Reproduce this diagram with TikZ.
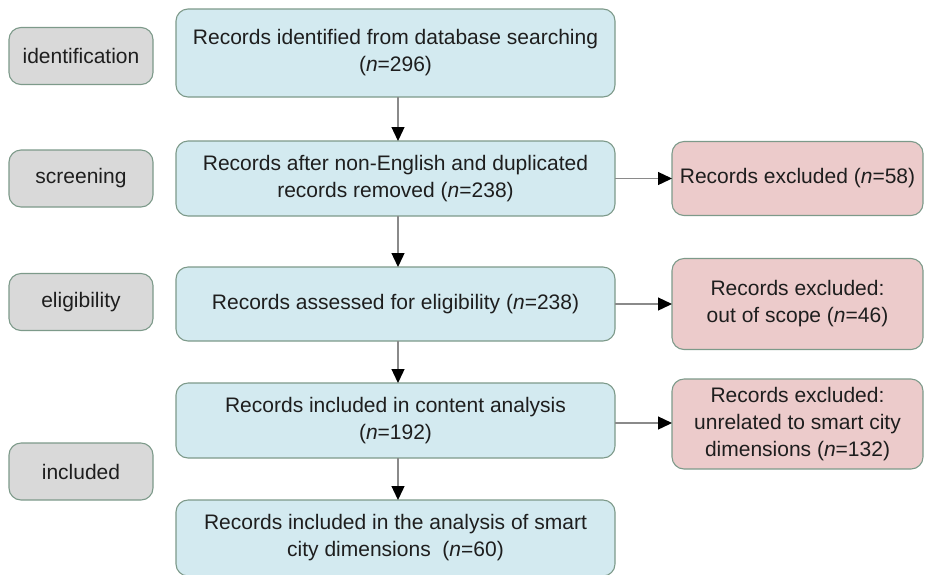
\documentclass[tikz,border=0pt]{standalone}
\usepackage{fontspec}
\setmainfont{Liberation Sans}
\usepackage{tikz}
\usetikzlibrary{positioning,arrows.meta}
\definecolor{pblue}{HTML}{D3EAF0}
\definecolor{pred}{HTML}{ECCBCB}
\definecolor{pgry}{HTML}{D9D9D9}
\definecolor{pedge}{HTML}{7D9A8A}
\definecolor{pline}{HTML}{8A8A8A}
\definecolor{ptext}{HTML}{1E1E1E}
\newcommand{\nn}[1]{(\textit{n}=#1)}
\tikzset{
  box/.style   ={rounded corners=12pt, draw=pedge, line width=1.1pt, outer sep=0pt,
                 inner sep=4pt, align=center, text=ptext, font=\fontsize{21}{27}\selectfont},
  recbox/.style={box, fill=pblue, minimum width=439pt},
  exbox/.style ={box, fill=pred, minimum width=251pt},
  stagebox/.style={box, fill=pgry, minimum width=144pt, minimum height=57pt},
  flow/.style  ={-{Triangle[length=14pt, width=13pt, color=black]}, line width=1.3pt, draw=pline},
}
\begin{document}
\begin{tikzpicture}[x=1pt, y=-1pt]
  \useasboundingbox (0,0) rectangle (925,574);
  % main chain of records
  \node[recbox, minimum height=88pt] (ident) at (395.5,53)
     {Records identified from database searching\\\nn{296}};
  \node[recbox, minimum height=75pt, below=44pt of ident] (dedup)
     {Records after non-English and duplicated\\records removed \nn{238}};
  \node[recbox, minimum height=74pt, below=51pt of dedup] (elig)
     {Records assessed for eligibility \nn{238}};
  \node[recbox, minimum height=75pt, below=42pt of elig] (content)
     {Records included in content analysis\\\nn{192}};
  \node[recbox, minimum height=76pt, below=42pt of content] (final)
     {Records included in the analysis of smart\\city dimensions~ \nn{60}};
  % exclusions
  \node[exbox, minimum height=74pt, right=57pt of dedup] (exdup) {Records excluded \nn{58}};
  \node[exbox, minimum height=91pt, right=57pt of elig] (exscope)
     {Records excluded:\\out of scope \nn{46}};
  \node[exbox, minimum height=90pt, right=57pt of content, yshift=-3.5pt] (exdim)
     {Records excluded:\\unrelated to smart city\\dimensions \nn{132}};
  % stage labels
  \node[stagebox] (sident) at (81,56) {identification};
  \node[stagebox] (sscreen) at (81,178.5) {screening};
  \node[stagebox] (selig) at (81,302) {eligibility};
  \node[stagebox] (sincl) at (81,471.5) {included};
  \draw[flow] ([xshift=2.5pt]ident.south) -- ([xshift=2.5pt]dedup.north);
  \draw[flow] ([xshift=2.5pt]dedup.south) -- ([xshift=2.5pt]elig.north);
  \draw[flow] ([xshift=2.5pt]elig.south) -- ([xshift=2.5pt]content.north);
  \draw[flow] ([xshift=2.5pt]content.south) -- ([xshift=2.5pt]final.north);
  \draw[flow] (dedup) -- (exdup);
  \draw[flow] (elig) -- (exscope);
  \draw[flow] ([yshift=-2.5pt]content.east) -- ([yshift=-2.5pt]content.east -| exdim.west);
\end{tikzpicture}
\end{document}
